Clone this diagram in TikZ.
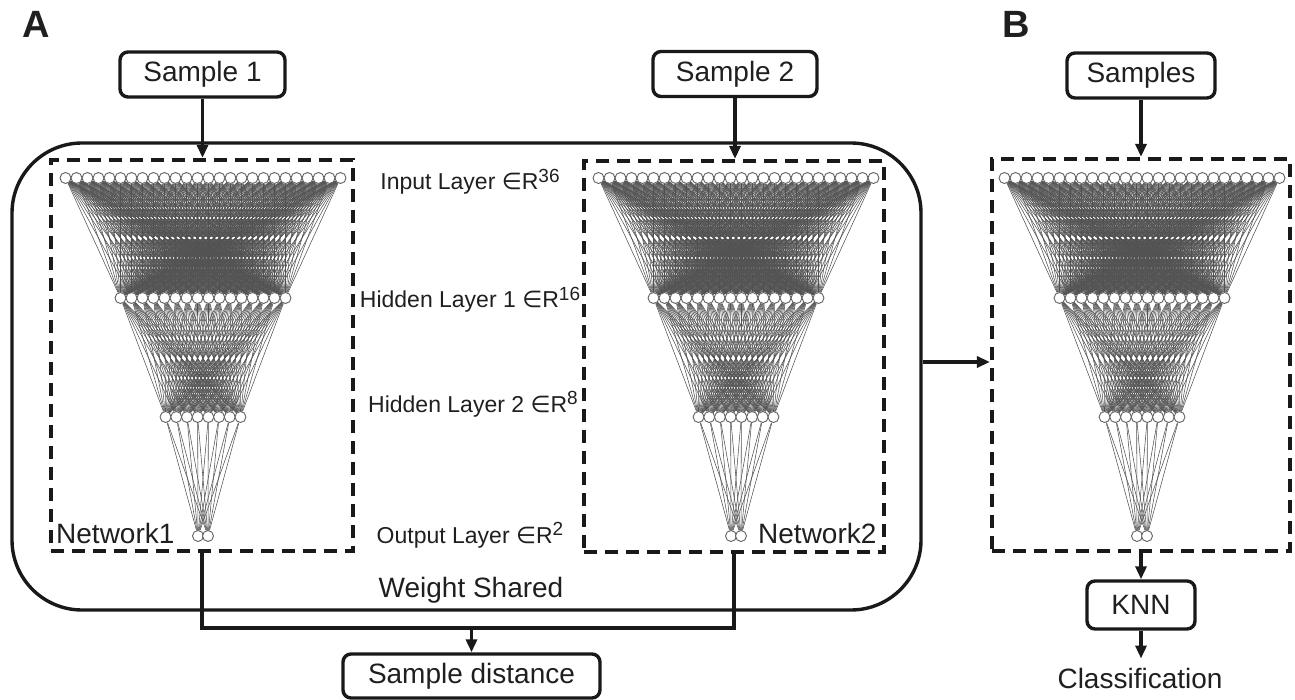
\documentclass[tikz,border=0pt]{standalone}
\usepackage{fontspec}
\setmainfont{Liberation Sans}
\newfontfamily\djv{DejaVu Sans}
\usetikzlibrary{arrows.meta,calc}
\pgfdeclarelayer{bg}
\pgfsetlayers{bg,main}
\newcommand{\sups}[1]{\raisebox{0.32em}{\fontsize{19}{19}\selectfont #1}}
\newcommand{\elem}{{\djv ∈}}
\newcommand{\mynet}[2]{%
  \foreach \i in {1,...,26} \node[neuron] (#1a\i) at ({#2+(\i-13.5)*11},178) {};
  \foreach \i in {1,...,16} \node[neuron] (#1b\i) at ({#2+(\i-8.5)*11},298) {};
  \foreach \i in {1,...,8} \node[neuron] (#1c\i) at ({#2+(\i-4.5)*10.7},417) {};
  \foreach \i in {1,2} \node[neuron] (#1d\i) at ({#2+(\i-1.5)*10},536) {};
  \begin{pgfonlayer}{bg}
    \foreach \i in {1,...,26} {\foreach \j in {1,...,16} {\draw[syn] (#1a\i) -- (#1b\j);}}
    \foreach \i in {1,...,16} {\foreach \j in {1,...,8} {\draw[syn] (#1b\i) -- (#1c\j);}}
    \foreach \i in {1,...,8} {\foreach \j in {1,2} {\draw[syn] (#1c\i) -- (#1d\j);}}
  \end{pgfonlayer}
}
\tikzset{
  neuron/.style={circle, draw=black!62, fill=white, line width=0.9pt, minimum size=11pt, inner sep=0pt},
  syn/.style={draw=black!68, line width=0.55pt},
  netbox/.style={draw=black!90, dashed, dash pattern=on 13pt off 8pt, line width=4.2pt, inner sep=0pt},
  samplebox/.style={draw=black!90, rounded corners=8pt, line width=3.4pt, minimum height=45pt, inner sep=0pt, font=\fontsize{28}{28}\selectfont, text=black!88},
  bigtext/.style={font=\fontsize{28}{28}\selectfont, text=black!88, inner sep=0pt},
  layertext/.style={font=\fontsize{23}{23}\selectfont, text=black!88, anchor=base, inner sep=0pt},
  paneltext/.style={font=\fontsize{38}{38}\selectfont\bfseries, text=black!88, anchor=base west, inner sep=0pt},
  conn/.style={draw=black!90, line width=3.4pt},
  arr/.style={conn, -{Triangle[length=13pt,width=11pt]}},
}
\begin{document}
\begin{tikzpicture}[x=1pt, y=-1pt]
\useasboundingbox (0,0) rectangle (1295,700);
% panel letters
\node[paneltext] (pA) at (22,38) {A};
\node[paneltext] (pB) at (1002,38) {B};
% weight shared frame
\node[draw=black!90, line width=3.4pt, rounded corners=70pt, minimum width=909pt, minimum height=467pt, inner sep=0pt] (ws) at (466.5,376.5) {};
% network boxes
\node[netbox, minimum width=302pt, minimum height=391pt] (net1) at (202,355.5) {};
\node[netbox, minimum width=300pt, minimum height=391pt] (net2) at (734,356.5) {};
\node[netbox, minimum width=298pt, minimum height=392pt] (net3) at (1141,355) {};
% networks
\mynet{P}{203}
\mynet{Q}{736}
\mynet{R}{1142}
% sample boxes
\node[samplebox, minimum width=165pt] (s1) at (202.5,74.5) {Sample 1};
\node[samplebox, minimum width=164pt] (s2) at (735,74) {Sample 2};
\node[samplebox, minimum width=148pt] (s3) at (1141,75.5) {Samples};
\node[samplebox, minimum width=257pt, minimum height=44pt] (sd) at (471.5,676) {Sample distance};
\node[samplebox, minimum width=108pt, minimum height=48pt] (knn) at (1141,605) {KNN};
\node[bigtext, anchor=base] (cls) at (1140,688) {Classification};
% layer labels
\node[layertext] (l1) at (470,190) {Input Layer \elem R\sups{36}};
\node[layertext] (l2) at (470,308) {Hidden Layer 1 \elem R\sups{16}};
\node[layertext] (l3) at (473,412) {Hidden Layer 2 \elem R\sups{8}};
\node[layertext] (l4) at (470,543) {Output Layer \elem R\sups{2}};
\node[bigtext, anchor=base] (wsl) at (471,597) {Weight Shared};
\node[bigtext, anchor=base west] (n1l) at (56,543) {Network1};
\node[bigtext, anchor=base west] (n2l) at (758,543) {Network2};
% connectors
\draw[arr] (s1.south) -- (s1.south |- net1.north);
\draw[arr] (s2.south) -- (s2.south |- net2.north);
\draw[arr] (s3.south) -- (s3.south |- net3.north);
\coordinate (jn) at ($(net1.south)+(0,75)$);
\draw[conn] (net1.south) -- (jn) -| (net2.south);
\draw[arr] (jn -| sd.north) -- (sd.north);
\draw[arr] ([yshift=14.5pt]ws.east) -- ([yshift=14.5pt]ws.east -| net3.west);
\draw[arr] (net3.south) -- (knn.north);
\draw[arr, shorten >=9pt] (knn.south) -- (knn.south |- cls.north);
\end{tikzpicture}
\end{document}
